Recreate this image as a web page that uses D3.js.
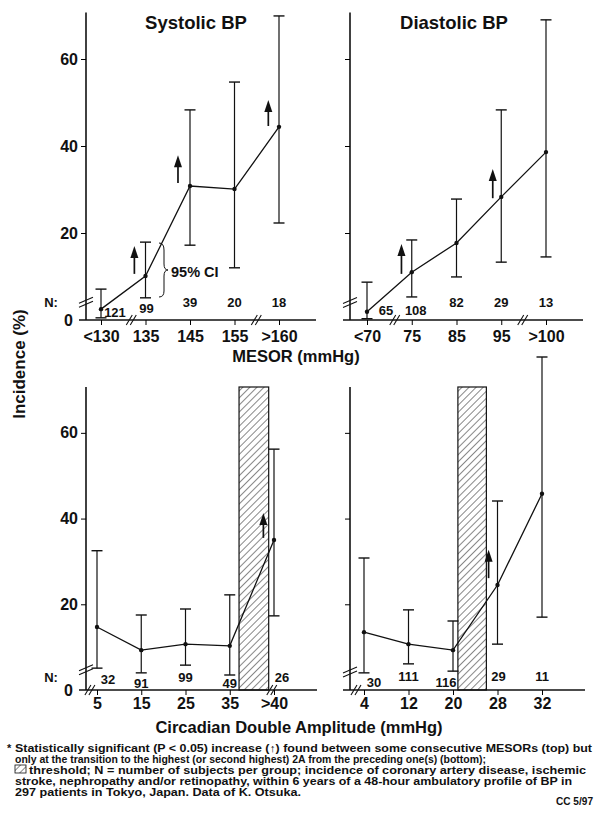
<!DOCTYPE html>
<html lang="en">
<head>
<meta charset="UTF-8">
<title>Incidence vs MESOR and Circadian Double Amplitude</title>
<script src="https://d3js.org/d3.v7.min.js"></script>
<style>
  body { margin: 0; background: #fff; }
  svg text { font-family: "Liberation Sans", Arial, Helvetica, sans-serif; font-weight: bold; fill: #111; }
</style>
</head>
<body>
<svg id="chart"></svg>
<script>
// ---- data ----
const sysCats = ["<130", "135", "145", "155", ">160"];
const sysMean = [2.5, 10.1, 30.8, 30.1, 44.4];
const sysLo   = [0.5, 5.1, 17.2, 12.0, 22.3];
const sysHi   = [7.1, 17.9, 48.3, 54.7, 69.9];
const sysN    = [121, 99, 39, 20, 18];
// arrows: [position in category steps, base, tip]
const sysArrows = [[0.75, 10.6, 17.0], [1.73, 31.5, 37.9], [3.76, 44.6, 50.6]];

const diaCats = ["<70", "75", "85", "95", ">100"];
const diaMean = [1.9, 11.0, 17.7, 28.3, 38.6];
const diaLo   = [0.3, 5.3, 9.9, 13.3, 14.5];
const diaHi   = [8.7, 18.4, 27.8, 48.3, 69.0];
const diaN    = [65, 108, 82, 29, 13];
const diaArrows = [[0.77, 10.6, 17.5], [2.81, 28.0, 34.7]];

const ampSysCats = ["5", "15", "25", "35", ">40"];
const ampSysMean = [14.7, 9.3, 10.7, 10.3, 35.0];
const ampSysLo   = [5.1, 4.0, 5.8, 3.5, 17.3];
const ampSysHi   = [32.5, 17.5, 18.9, 22.2, 56.2];
const ampSysN    = [32, 91, 99, 49, 26];
const ampSysArrows = [[3.76, 35.5, 41.3]];
const ampSysThreshold = [3.21, 3.88];

const ampDiaCats = ["4", "12", "20", "28", "32"];
const ampDiaMean = [13.5, 10.7, 9.3, 24.5, 45.8];
const ampDiaLo   = [4.0, 6.1, 4.4, 10.7, 17.0];
const ampDiaHi   = [30.8, 18.7, 16.1, 44.1, 77.7];
const ampDiaN    = [30, 111, 116, 29, 11];
const ampDiaArrows = [[2.8, 26.1, 32.7]];
const ampDiaThreshold = [2.11, 2.75];

const yTicks = [20, 40, 60];

const footLines = [
  "Statistically significant (P < 0.05) increase (\u2191) found between some consecutive MESORs (top) but",
  "only at the transition to the highest (or second highest) 2A from the preceding one(s) (bottom);",
  "threshold; N = number of subjects per group; incidence of coronary artery disease, ischemic",
  "stroke, nephropathy and/or retinopathy, within 6 years of a 48-hour ambulatory profile of BP in",
  "297 patients in Tokyo, Japan.  Data of K. Otsuka."
];

// ---- drawing ----
const W = 601, H = 813;
const svg = d3.select("#chart").attr("width", W).attr("height", H);
svg.append("rect").attr("width", W).attr("height", H).attr("fill", "#fff");

svg.append("defs").append("pattern")
    .attr("id", "hatch")
    .attr("width", 5).attr("height", 5)
    .attr("patternUnits", "userSpaceOnUse")
    .attr("patternTransform", "rotate(45)")
  .append("line")
    .attr("x1", 0).attr("y1", 0).attr("x2", 0).attr("y2", 5)
    .attr("stroke", "#111").attr("stroke-width", 1);

function brk(g, x, y, vertical) {
  [-2, 2].forEach(d => {
    if (vertical) {
      g.append("line").attr("x1", x - 7).attr("y1", y + 3 + d).attr("x2", x + 7).attr("y2", y - 3 + d)
        .attr("stroke", "#111").attr("stroke-width", 1.1);
    } else {
      g.append("line").attr("x1", x - 3 + d).attr("y1", y + 5).attr("x2", x + 3 + d).attr("y2", y - 5)
        .attr("stroke", "#111").attr("stroke-width", 1.1);
    }
  });
}

function panel(p) {
  const g = svg.append("g");
  const x = d3.scalePoint().domain(p.cats).range(p.xr);
  const y = d3.scaleLinear().domain([0, 70]).range(p.yr);
  const at = v => x(p.cats[0]) + v * x.step();

  if (p.threshold) {
    g.append("rect")
      .attr("x", at(p.threshold[0]))
      .attr("y", y(70) - 3)
      .attr("width", at(p.threshold[1]) - at(p.threshold[0]))
      .attr("height", y(0) - y(70) + 3)
      .attr("fill", "url(#hatch)")
      .attr("stroke", "#111").attr("stroke-width", 1.2);
  }

  // y axis
  const ya = g.append("g")
    .attr("transform", `translate(${p.ax},0)`)
    .call(d3.axisLeft(y).tickValues(yTicks).tickSize(5).tickSizeOuter(0).tickPadding(3)
      .tickFormat(p.labels ? d3.format("d") : ""));
  ya.select(".domain").attr("stroke", "#111").attr("stroke-width", 1.6)
    .attr("d", `M0,${y(0)}V${y(70) - 3}`);
  ya.selectAll("text").style("font-size", "16px");
  if (p.labels) {
    g.append("text").attr("x", p.ax - 13).attr("y", y(0)).attr("dy", ".36em")
      .attr("text-anchor", "end").style("font-size", "16px").text("0");
    g.append("text").attr("x", 51).attr("y", y(0) - p.nOff).attr("dy", ".36em")
      .attr("text-anchor", "middle").style("font-size", "13px").text("N:");
  }

  // baseline + x axis
  g.append("line").attr("x1", p.ax - 7).attr("x2", p.xEnd).attr("y1", y(0)).attr("y2", y(0))
    .attr("stroke", "#111").attr("stroke-width", 1.6);
  const xa = g.append("g")
    .attr("transform", `translate(0,${y(0)})`)
    .call(d3.axisBottom(x).tickSize(5).tickPadding(p.xPad));
  xa.select(".domain").remove();
  xa.selectAll("text").style("font-size", "16px");

  // error bars
  const cap = 5.5;
  p.cats.forEach((c, i) => {
    const cx = x(c);
    g.append("line").attr("x1", cx).attr("x2", cx).attr("y1", y(p.lo[i])).attr("y2", y(p.hi[i]))
      .attr("stroke", "#111").attr("stroke-width", 1.2);
    [p.lo[i], p.hi[i]].forEach(v => {
      g.append("line").attr("x1", cx - cap).attr("x2", cx + cap).attr("y1", y(v)).attr("y2", y(v))
        .attr("stroke", "#111").attr("stroke-width", 1.4);
    });
  });

  // mean line + dots
  g.append("path")
    .datum(p.mean)
    .attr("d", d3.line().x((d, i) => x(p.cats[i])).y(d => y(d)))
    .attr("fill", "none").attr("stroke", "#111").attr("stroke-width", 1.3);
  g.selectAll(".dot").data(p.mean).enter().append("circle")
    .attr("cx", (d, i) => x(p.cats[i])).attr("cy", d => y(d)).attr("r", 2.2).attr("fill", "#111");

  // significance arrows
  p.arrows.forEach(a => {
    const ax = at(a[0]), yb = y(a[1]), yt = y(a[2]);
    const head = 12;
    g.append("line").attr("x1", ax).attr("x2", ax).attr("y1", yb).attr("y2", yt + head - 1)
      .attr("stroke", "#111").attr("stroke-width", 1.7);
    g.append("path")
      .attr("d", `M${ax},${yt}L${ax - 4},${yt + head}L${ax + 4},${yt + head}Z`)
      .attr("fill", "#111");
  });

  // N labels
  p.n.forEach((n, i) => {
    const nudge = p.nNudge[i] || [0, 0];
    g.append("text")
      .attr("x", x(p.cats[i]) + nudge[0])
      .attr("y", y(0) - p.nOff + nudge[1])
      .attr("dy", ".36em").attr("text-anchor", "middle")
      .style("font-size", "13px").text(n);
  });

  // axis breaks
  p.xBreaks.forEach(b => brk(g, at(b), y(0), false));
  brk(g, p.ax, y(p.yBreak), true);

  if (p.title) {
    g.append("text").attr("x", p.titleX).attr("y", 29).attr("text-anchor", "middle")
      .style("font-size", "18.5px").text(p.title);
  }
  return {x, y};
}

panel({
  cats: sysCats, mean: sysMean, lo: sysLo, hi: sysHi, n: sysN, arrows: sysArrows,
  title: "Systolic BP", titleX: 196, labels: true,
  ax: 86, xr: [101, 279], xEnd: 316, yr: [320, 15.5], xPad: 6,
  nOff: 18, nNudge: [[14, 10], [1, 6]], xBreaks: [0.68, 3.49], yBreak: 4.1
});
panel({
  cats: diaCats, mean: diaMean, lo: diaLo, hi: diaHi, n: diaN, arrows: diaArrows,
  title: "Diastolic BP", titleX: 454, labels: false,
  ax: 350, xr: [367, 546], xEnd: 583, yr: [320, 15.5], xPad: 6,
  nOff: 18, nNudge: [[19, 8], [4, 8]], xBreaks: [0.62, 3.48], yBreak: 4.0
});
panel({
  cats: ampSysCats, mean: ampSysMean, lo: ampSysLo, hi: ampSysHi, n: ampSysN, arrows: ampSysArrows,
  threshold: ampSysThreshold, labels: true,
  ax: 86, xr: [97, 274], xEnd: 317, yr: [690, 390], xPad: 3,
  nOff: 13, nNudge: [[11, 2], [0, 6], [0, 0], [0, 6], [8, 0]], xBreaks: [-0.16, 3.95], yBreak: 4.7
});
panel({
  cats: ampDiaCats, mean: ampDiaMean, lo: ampDiaLo, hi: ampDiaHi, n: ampDiaN, arrows: ampDiaArrows,
  threshold: ampDiaThreshold, labels: false,
  ax: 350, xr: [364, 542], xEnd: 585, yr: [690, 390], xPad: 3,
  nOff: 14, nNudge: [[10, 6], [0, 0], [-7, 6], [1, 0]], xBreaks: [-0.18], yBreak: 4.2
});

// 95% CI brace
svg.append("path")
  .attr("d", "M159,243 Q164,243 164,250 L164,264 Q164,270 168,270 Q164,270 164,276 L164,291 Q164,297 159,297")
  .attr("fill", "none").attr("stroke", "#111").attr("stroke-width", 1);
svg.append("text").attr("x", 171).attr("y", 277).style("font-size", "14.5px").text("95% CI");

// axis titles
svg.append("text").attr("transform", "translate(25,364) rotate(-90)")
  .attr("text-anchor", "middle").style("font-size", "17px").text("Incidence (%)");
svg.append("text").attr("x", 296).attr("y", 362).attr("text-anchor", "middle")
  .style("font-size", "16.5px").text("MESOR (mmHg)");
svg.append("text").attr("x", 299).attr("y", 733).attr("text-anchor", "middle")
  .style("font-size", "16.5px").text("Circadian Double Amplitude (mmHg)");

// footnote
const footEnds = [592, 486, 586, 572, 301];
const foot = svg.append("g");
foot.append("text").attr("x", 7).attr("y", 752).style("font-size", "11px").text("*");
footLines.forEach((t, i) => {
  const x0 = i === 2 ? 29 : 15;
  foot.append("text").attr("x", x0).attr("y", 752 + i * 11)
    .attr("textLength", footEnds[i] - x0).attr("lengthAdjust", "spacingAndGlyphs")
    .style("font-size", "11px").text(t);
});
foot.append("rect").attr("x", 15).attr("y", 765).attr("width", 11).attr("height", 8)
  .attr("fill", "url(#hatch)").attr("stroke", "#111").attr("stroke-width", 0.8);
foot.append("text").attr("x", 593).attr("y", 805).attr("text-anchor", "end")
  .attr("textLength", 37).attr("lengthAdjust", "spacingAndGlyphs")
  .style("font-size", "11px").text("CC 5/97");
</script>
</body>
</html>
